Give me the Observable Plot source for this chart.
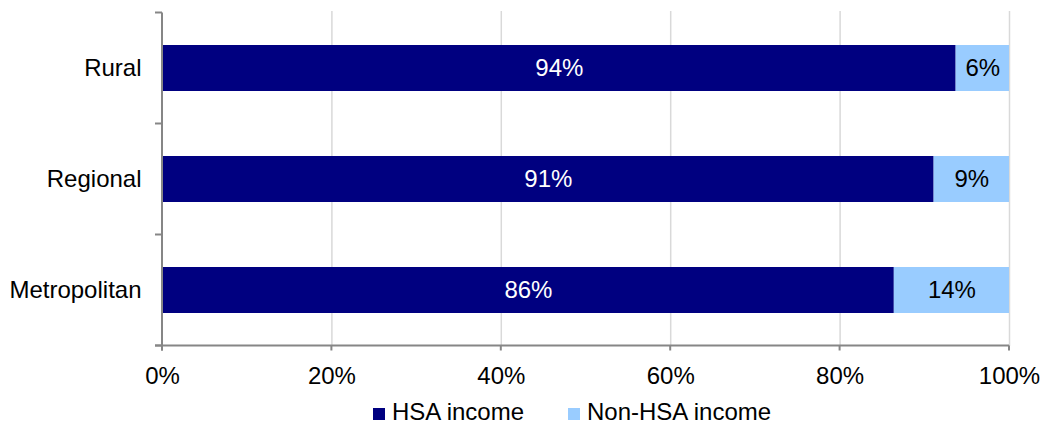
<!DOCTYPE html>
<html>
<head>
<meta charset="utf-8">
<script src="https://cdn.jsdelivr.net/npm/d3@7"></script>
<script src="https://cdn.jsdelivr.net/npm/@observablehq/plot@0.6"></script>
<style>
  html, body { margin: 0; padding: 0; background: #fff; }
  #chart { width: 1058px; font-family: "Liberation Sans", Arial, sans-serif; }
  .legend { position: relative; height: 33px; font-size: 24px; color: #000; }
  .legend .item { position: absolute; top: 6px; display: flex; align-items: center; height: 28px; }
  .legend .sw { width: 12px; height: 12px; margin-right: 7px; margin-top: 3px; }
</style>
</head>
<body>
<div id="chart"></div>
<script>
const regions = ["Rural", "Regional", "Metropolitan"];
const seriesNames = ["HSA income", "Non-HSA income"];
const hsaShare = [93.7, 91.1, 86.4];
const nonHsaShare = [6.3, 8.9, 13.6];
const hsaLabels = ["94%", "91%", "86%"];
const nonHsaLabels = ["6%", "9%", "14%"];
const xTicks = [0, 20, 40, 60, 80, 100];
const xTickLabels = ["0%", "20%", "40%", "60%", "80%", "100%"];
const colors = ["#000080", "#99CCFF"];

const rows = [];
regions.forEach((r, i) => {
  rows.push({region: r, series: seriesNames[0], value: hsaShare[i], label: hsaLabels[i]});
  rows.push({region: r, series: seriesNames[1], value: nonHsaShare[i], label: nonHsaLabels[i]});
});

const axisColor = "#868686";

function axesMark(index, scales, values, dimensions) {
  const y = scales.y, x = scales.x;
  const step = y.step ? y.step() : (y(regions[1]) - y(regions[0]));
  const bw = y.bandwidth ? y.bandwidth() : 0;
  const half = (step - bw) / 2;
  const bounds = regions.map(r => y(r) - half);
  bounds.push(y(regions[regions.length - 1]) + bw + half);
  const x0 = x(0), x1 = x(100);
  const yb = bounds[bounds.length - 1];
  const g = d3.create("svg:g").attr("stroke", axisColor).attr("stroke-width", 2).attr("fill", "none");
  g.append("line").attr("x1", x0).attr("x2", x0).attr("y1", bounds[0]).attr("y2", yb + 5);
  g.append("line").attr("x1", x0 - 7).attr("x2", x1).attr("y1", yb).attr("y2", yb);
  bounds.forEach(b => g.append("line").attr("x1", x0 - 7).attr("x2", x0).attr("y1", b).attr("y2", b));
  xTicks.forEach(t => g.append("line").attr("x1", x(t)).attr("x2", x(t)).attr("y1", yb).attr("y2", yb + 5));
  return g.node();
}

const plot = Plot.plot({
  width: 1058,
  height: 392,
  marginLeft: 162,
  marginRight: 49,
  marginTop: 11,
  marginBottom: 46,
  style: {fontFamily: "'Liberation Sans', Arial, sans-serif", fontSize: "24px", color: "#000", background: "#fff", overflow: "visible"},
  x: {domain: [0, 100]},
  y: {domain: regions, paddingInner: 0.588, paddingOuter: 0.294},
  color: {domain: seriesNames, range: colors},
  marks: [
    Plot.ruleX(xTicks.slice(1), {stroke: "#d9d9d9", strokeWidth: 1.5}),
    Plot.barX(rows, {x: "value", y: "region", fill: "series"}),
    Plot.text(rows, Plot.stackX({x: "value", y: "region", z: "series",
      text: d => d.series === seriesNames[0] ? d.label : "", fill: "#ffffff", fontSize: 24})),
    Plot.text(rows, Plot.stackX({x: "value", y: "region", z: "series",
      text: d => d.series === seriesNames[1] ? d.label : "", fill: "#000000", fontSize: 24})),
    Plot.axisY({tickSize: 0, tickPadding: 21, fontSize: 24, label: null}),
    Plot.axisX({ticks: xTicks, tickFormat: d => xTickLabels[xTicks.indexOf(d)], tickSize: 0, tickPadding: 20, fontSize: 24, label: null}),
    axesMark
  ]
});

const container = document.getElementById("chart");
container.appendChild(plot);

const legend = document.createElement("div");
legend.className = "legend";
const legendX = [373, 568];
seriesNames.forEach((s, i) => {
  const item = document.createElement("div");
  item.className = "item";
  item.style.left = legendX[i] + "px";
  const sw = document.createElement("div");
  sw.className = "sw";
  sw.style.background = colors[i];
  const label = document.createElement("span");
  label.textContent = s;
  item.appendChild(sw);
  item.appendChild(label);
  legend.appendChild(item);
});
container.appendChild(legend);
</script>
</body>
</html>
